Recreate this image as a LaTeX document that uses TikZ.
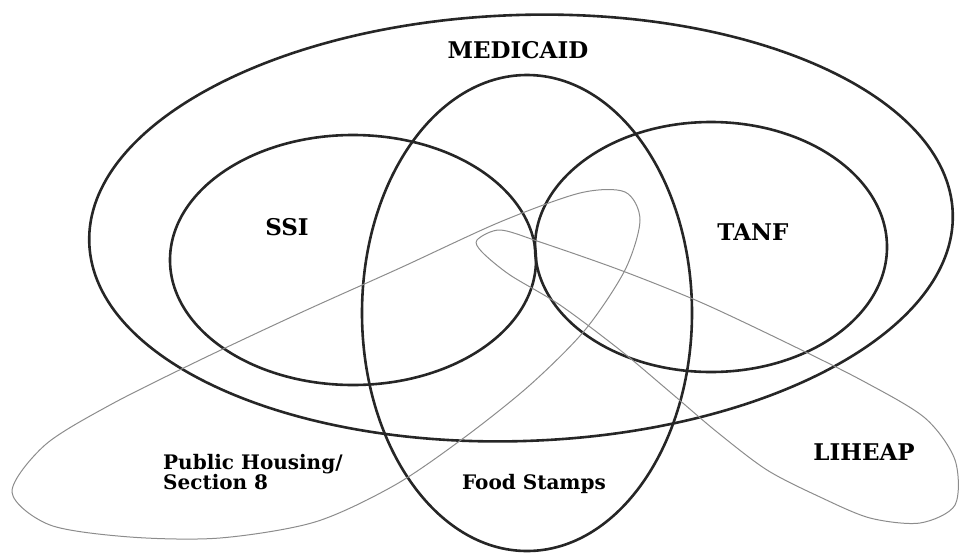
\documentclass[tikz,border=0pt]{standalone}
\usepackage{fontspec}
\setmainfont{DejaVu Serif}
\begin{document}
\begin{tikzpicture}[x=1pt,y=-1pt,
  ring/.style={line width=2.6pt,black!85},
  loopline/.style={line width=1pt,black!45},
  lbl/.style={font=\bfseries\fontsize{23}{24}\selectfont,inner sep=0pt},
  lblsmall/.style={font=\bfseries\fontsize{20}{20}\selectfont,inner sep=0pt}]
\useasboundingbox (0,0) rectangle (963,555);

% the four programme ellipses
\draw [ring,rotate around={2:(521,228)}] (521,228) ellipse [x radius=432pt,y radius=213pt];
\draw [ring] (353,260) ellipse [x radius=183pt,y radius=125pt];
\draw [ring] (711,247) ellipse [x radius=176pt,y radius=125pt];
\draw [ring] (527,313) ellipse [x radius=165pt,y radius=238pt];

% housing loop
\draw [loopline] plot [smooth cycle] coordinates {(12,492) (45,445) (110,405) (200,360) (300,313) (400,268) (500,222) (580,193) (625,192) (640,220) (625,270) (585,330) (530,385) (465,437) (395,485) (315,522) (220,538) (130,537) (50,525)};
% liheap loop
\draw [loopline] plot [smooth cycle] coordinates {(477,240) (500,230) (540,242) (620,270) (700,302) (783,341) (863,381) (925,418) (955,460) (955,505) (920,523) (870,518) (820,497) (767,470) (717,432) (670,392) (620,350) (560,305) (510,275) (482,252)};

\node [lbl] at (518,50) (medicaid) {MEDICAID};
\node [lbl] at (287,227) (ssi) {SSI};
\node [lbl] at (753,232) (tanf) {TANF};
\node [lblsmall] at (534,484) (food) {Food Stamps};
\node [lbl] at (864,452) (liheap) {LIHEAP};
\node [lblsmall,align=left,anchor=west] at (163,472) (housing) {Public Housing/\\Section 8};

\end{tikzpicture}
\end{document}
